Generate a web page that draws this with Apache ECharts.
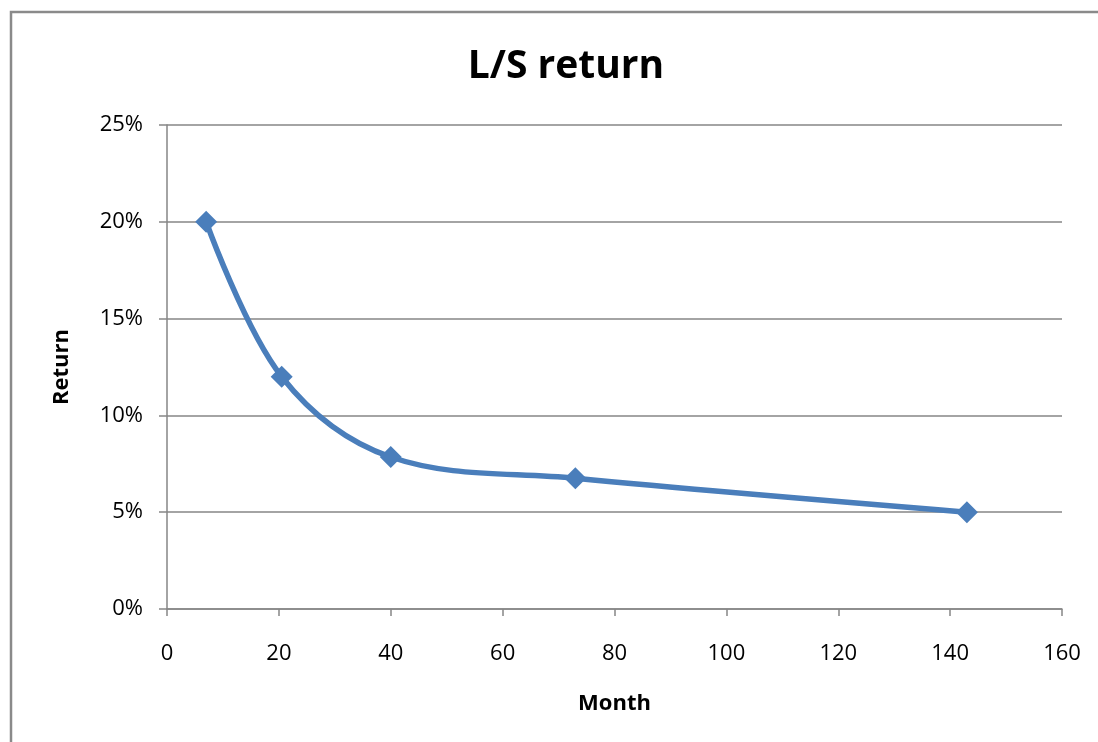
<!DOCTYPE html>
<html>
<head>
<meta charset="utf-8">
<script src="https://cdn.jsdelivr.net/npm/echarts@6/dist/echarts.min.js"></script>
<style>
  html, body { margin: 0; padding: 0; background: #fff; }
  #main { width: 1098px; height: 742px; }
</style>
</head>
<body>
<div id="main"></div>
<script>
// data
const months = [7, 20.5, 40, 73, 143];
const returns = [20, 12, 7.85, 6.75, 5];
const xTicks = [0, 20, 40, 60, 80, 100, 120, 140, 160];
const yTicks = [0, 5, 10, 15, 20, 25];

const chart = echarts.init(document.getElementById('main'));
const font = 'Open Sans, Noto Sans, sans-serif';

const option = {
  animation: false,
  backgroundColor: '#fff',
  textStyle: { fontFamily: font },
  title: {
    text: 'L/S return',
    left: 561,
    top: 42,
    textAlign: 'center',
    textStyle: { fontSize: 39, fontWeight: 'bold', color: '#000', fontFamily: font }
  },
  graphic: [{
    type: 'rect',
    shape: { x: 11, y: 12, width: 1200, height: 800 },
    style: { fill: null, stroke: '#8a8a8a', lineWidth: 2.5 },
    silent: true
  }],
  grid: { left: 167, right: 36, top: 125, bottom: 133 },
  xAxis: {
    type: 'value',
    min: xTicks[0],
    max: xTicks[xTicks.length - 1],
    interval: 20,
    name: 'Month',
    nameLocation: 'middle',
    nameGap: 84,
    nameTextStyle: { fontSize: 22, fontWeight: 'bold', color: '#000', fontFamily: font },
    axisLine: { show: true, lineStyle: { color: '#868686', width: 1.5 } },
    axisTick: { show: true, length: 7, inside: false, lineStyle: { color: '#868686', width: 1.5 } },
    axisLabel: { fontSize: 22, color: '#000', margin: 34, fontFamily: font },
    splitLine: { show: false }
  },
  yAxis: {
    type: 'value',
    min: yTicks[0],
    max: yTicks[yTicks.length - 1],
    interval: 5,
    name: 'Return',
    nameLocation: 'middle',
    nameGap: 94,
    nameRotate: 90,
    nameTextStyle: { fontSize: 22, fontWeight: 'bold', color: '#000', fontFamily: font },
    axisLine: { show: true, lineStyle: { color: '#868686', width: 1.5 } },
    axisTick: { show: true, length: 8, inside: false, lineStyle: { color: '#868686', width: 1.5 } },
    axisLabel: { fontSize: 22, color: '#000', margin: 24, formatter: '{value}%', fontFamily: font },
    splitLine: { show: true, lineStyle: { color: '#868686', width: 1.5 } }
  },
  series: [{
    type: 'line',
    data: months.map((m, i) => [m, returns[i]]),
    smooth: 0.35,
    symbol: 'diamond',
    symbolSize: 22,
    lineStyle: { color: '#4A7EBB', width: 5.5 },
    itemStyle: { color: '#4A7EBB' }
  }]
};

chart.setOption(option);
</script>
</body>
</html>
